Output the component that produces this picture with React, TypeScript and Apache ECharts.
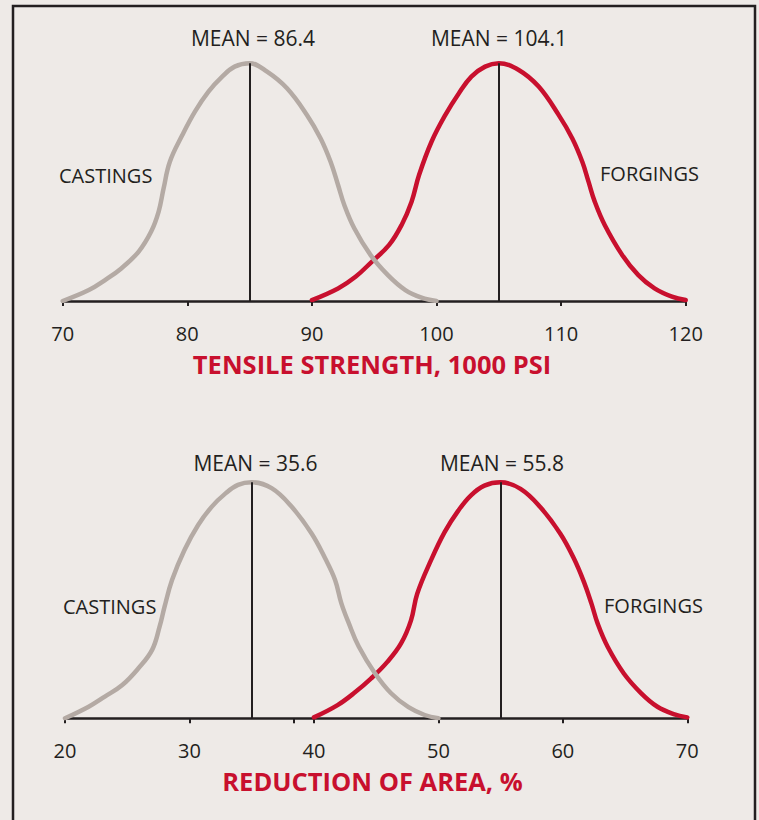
import React, { useEffect, useRef } from "react";
import * as echarts from "echarts";

// Tensile strength (1000 psi) — relative frequency (peak = 100)
const tensileCastings: [number, number][] = [
  [70, 0], [72.1, 4.6], [73.4, 8.8], [74.7, 13.7], [76.1, 20.8], [77.1, 29.2], [77.7, 37.6],
  [78.1, 47.4], [78.6, 58.6], [79.6, 69.8], [80.6, 79.6], [81.7, 88.1], [82.8, 94.4],
  [83.8, 98.6], [85, 100], [86.4, 96.5], [88, 89.5], [89.6, 78.3], [90.7, 68.4], [91.5, 58.6],
  [92.1, 48.8], [92.6, 40.4], [93.4, 30.6], [94.7, 19.4], [96.1, 10.9], [97.5, 4.6],
  [98.8, 1.4], [100, 0],
];
const tensileForgings: [number, number][] = [
  [90, 0.4], [92.1, 5.3], [93.5, 10.2], [94.8, 16.5], [96.2, 23.6], [97.2, 32], [98, 41.8],
  [98.6, 53], [99.6, 67], [100.7, 78.2], [101.8, 87.4], [102.8, 94.4], [103.9, 98.6],
  [105, 100], [106.6, 97.2], [108.2, 90.2], [109.8, 78.3], [110.9, 68.4], [111.7, 58.6],
  [112.2, 50.2], [112.7, 41.8], [113.5, 32], [114.9, 19.4], [116.2, 10.9], [117.5, 5.3],
  [118.9, 1.8], [120, 0.4],
];
// Reduction of area (%)
const areaCastings: [number, number][] = [
  [20, 0], [21.9, 4.9], [23.2, 9.2], [24.6, 14.1], [25.9, 21.2], [27, 29], [27.6, 38.8],
  [28, 47.3], [28.6, 58.6], [29.6, 71.3], [30.7, 81.9], [31.8, 89.7], [32.9, 95.3],
  [33.9, 98.9], [35, 100], [36.6, 97.5], [38.2, 89.7], [39.8, 78.4], [40.9, 67.8],
  [41.7, 58.6], [42.2, 48.8], [42.8, 40.3], [43.6, 30.4], [44.9, 19.1], [46.2, 10.6],
  [47.6, 4.7], [48.9, 1.4], [50, 0],
];
const areaForgings: [number, number][] = [
  [40, 0.4], [41.9, 5.6], [43.3, 11], [44.6, 16.9], [45.9, 23.9], [47, 31.7], [47.8, 41.5],
  [48.3, 52.8], [49.4, 66.9], [50.5, 78.9], [51.6, 88], [52.6, 94.4], [53.7, 98.6],
  [55, 100], [56.6, 97.2], [58.2, 89.4], [59.8, 78.2], [60.9, 67.6], [61.7, 57.7],
  [62.3, 48.6], [62.8, 40.1], [63.6, 30.3], [64.9, 19], [66.3, 10.6], [67.6, 4.9],
  [68.9, 1.8], [70, 0.4],
];

const tensileMeanLines = [85, 105];
const areaMeanLines = [35, 55];
const tensileMeanLabels = ["MEAN = 86.4", "MEAN = 104.1"];
const areaMeanLabels = ["MEAN = 35.6", "MEAN = 55.8"];
const tensileRange = [70, 120];
const areaRange = [20, 70];
const areaExtraTicks = [38.4];
const tensileTitle = "TENSILE STRENGTH, 1000 PSI";
const areaTitle = "REDUCTION OF AREA, %";

const BG = "#eeeae7";
const INK = "#231f20";
const GREY = "#b4aaa4";
const RED = "#c8102e";
const FONT = "'Open Sans', sans-serif";

export default function App() {
  const ref = useRef<HTMLDivElement>(null);
  useEffect(() => {
    if (!ref.current) return;
    const chart = echarts.init(ref.current, undefined, { renderer: "svg" });

    const xAxisBase = (gridIndex: number, range: number[]) => ({
      type: "value",
      gridIndex,
      min: range[0],
      max: range[1],
      interval: 10,
      axisLine: { show: true, lineStyle: { color: INK, width: 2.5 } },
      axisTick: { show: true, length: 5, lineStyle: { color: INK, width: 2 } },
      axisLabel: { color: INK, fontSize: 20, fontFamily: FONT, margin: 22 },
      splitLine: { show: false },
    });
    const yAxisBase = (gridIndex: number) => ({
      type: "value",
      gridIndex,
      min: 0,
      max: 100,
      show: false,
    });
    const meanLine = (vals: number[]) => ({
      silent: true,
      symbol: "none",
      label: { show: false },
      lineStyle: { color: INK, width: 2, type: "solid" },
      data: vals.map((v) => [{ coord: [v, 0] }, { coord: [v, 100] }]),
    });
    const curve = (
      name: string,
      data: [number, number][],
      color: string,
      idx: number,
      z: number,
      mark?: number[]
    ) => ({
      name,
      type: "line",
      xAxisIndex: idx,
      yAxisIndex: idx,
      data,
      smooth: 0.4,
      showSymbol: false,
      symbol: "none",
      z,
      lineStyle: { color, width: 4.5, cap: "round", join: "round" },
      ...(mark ? { markLine: meanLine(mark) } : {}),
    });

    chart.setOption({
      animation: false,
      backgroundColor: BG,
      grid: [
        { left: 62.7, width: 623, top: 63.3, height: 237.7 },
        { left: 65, width: 622.3, top: 482.3, height: 236 },
      ],
      xAxis: [xAxisBase(0, tensileRange), xAxisBase(1, areaRange)],
      yAxis: [yAxisBase(0), yAxisBase(1)],
      series: [
        curve("Forgings tensile", tensileForgings, RED, 0, 2, tensileMeanLines),
        curve("Castings tensile", tensileCastings, GREY, 0, 3),
        curve("Forgings area", areaForgings, RED, 1, 2, areaMeanLines),
        curve("Castings area", areaCastings, GREY, 1, 3),
      ],
    });

    const txt = (text: string, x: number, y: number, align: string, extra: any = {}) => ({
      type: "text",
      x,
      y,
      silent: true,
      style: {
        text,
        fill: INK,
        font: `20px ${FONT}`,
        textAlign: align,
        textVerticalAlign: "middle",
        ...extra,
      },
    });
    const titleStyle = { fill: RED, font: `bold 25.5px ${FONT}` };
    const meanStyle = { font: `21px ${FONT}` };

    const tick = areaExtraTicks.map((v) => {
      const px = chart.convertToPixel({ xAxisIndex: 1 }, v) as number;
      return {
        type: "line",
        silent: true,
        shape: { x1: px, y1: 718.3, x2: px, y2: 723.3 },
        style: { stroke: INK, lineWidth: 2 },
      };
    });

    chart.setOption({
      graphic: [
        {
          type: "rect",
          silent: true,
          shape: { x: 13, y: 6, width: 742, height: 860 },
          style: { fill: "none", stroke: INK, lineWidth: 2.5 },
        },
        txt(tensileMeanLabels[0], 253, 38, "center", meanStyle),
        txt(tensileMeanLabels[1], 499, 38, "center", meanStyle),
        txt("CASTINGS", 59, 175, "left"),
        txt("FORGINGS", 600, 173, "left"),
        txt(tensileTitle, 372, 364, "center", titleStyle),
        txt(areaMeanLabels[0], 255.5, 463, "center", meanStyle),
        txt(areaMeanLabels[1], 502, 463, "center", meanStyle),
        txt("CASTINGS", 63, 606, "left"),
        txt("FORGINGS", 604, 605, "left"),
        txt(areaTitle, 372.5, 781, "center", titleStyle),
        ...tick,
      ],
    });

    return () => chart.dispose();
  }, []);

  return (
    <div
      ref={ref}
      style={{ position: "fixed", left: 0, top: 0, width: 759, height: 820 }}
    />
  );
}
